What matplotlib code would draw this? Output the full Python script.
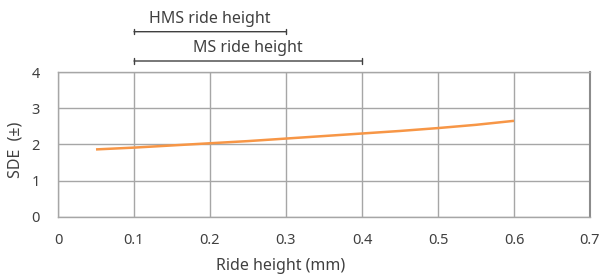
import matplotlib
matplotlib.use("Agg")
import matplotlib.pyplot as plt
import matplotlib.transforms as mtransforms

ride_height = [0.05, 0.1, 0.15, 0.2, 0.25, 0.3, 0.35, 0.4, 0.45, 0.5, 0.55, 0.6]
sde = [1.86, 1.91, 1.97, 2.03, 2.09, 2.16, 2.23, 2.30, 2.37, 2.45, 2.54, 2.65]
xticks = [0, 0.1, 0.2, 0.3, 0.4, 0.5, 0.6, 0.7]
xticklabels = ["0", "0.1", "0.2", "0.3", "0.4", "0.5", "0.6", "0.7"]
yticks = [0, 1, 2, 3, 4]
ranges = [("HMS ride height", 0.1, 0.3), ("MS ride height", 0.1, 0.4)]

plt.rcParams['font.family'] = ['Noto Sans', 'DejaVu Sans']
W, H = 601, 277
fig = plt.figure(figsize=(W/100, H/100), dpi=100)
l, r, t, b = 58, 590, 72, 216.7
ax = fig.add_axes([l/W, 1-b/H, (r-l)/W, (b-t)/H])

txt = '#404040'
ax.plot(ride_height, sde, color='#f79646', lw=1.8, solid_capstyle='butt')
ax.set_xlim(0, 0.7)
ax.set_ylim(0, 4)
ax.set_xticks(xticks)
ax.set_xticklabels(xticklabels)
ax.set_yticks(yticks)
ax.grid(True, color='#a6a6a6', lw=1)
ax.set_axisbelow(True)
for s in ax.spines.values():
    s.set_color('#a6a6a6')
    s.set_linewidth(1)
ax.spines['right'].set_color('#8c8c8c')
ax.spines['right'].set_linewidth(1.5)
ax.tick_params(length=0, labelsize=10.5, colors=txt, pad=12)
ax.tick_params(axis='y', pad=13)
ax.set_xlabel("Ride height (mm)", fontsize=11.5, color=txt)
ax.xaxis.set_label_coords((281-l)/(r-l), -0.285)
ax.xaxis.label.set_va('top')
ax.set_ylabel("SDE  (±)", fontsize=11.5, color=txt)
ax.yaxis.set_label_coords((15-l)/(r-l), (b-150)/(b-t))
ax.yaxis.label.set_va('center')

trans = mtransforms.blended_transform_factory(ax.transData, ax.transAxes)
bar_y = [(b-31.7)/(b-t), (b-61)/(b-t)]
txt_y = [(b-19)/(b-t), (b-48)/(b-t)]
for (name, x0, x1), by, ty in zip(ranges, bar_y, txt_y):
    ax.annotate('', xy=(x0, by), xytext=(x1, by), xycoords=trans, textcoords=trans,
                arrowprops=dict(arrowstyle='|-|', color='#404040', lw=1, mutation_scale=2,
                                shrinkA=0, shrinkB=0), annotation_clip=False)
    ax.text((x0+x1)/2, ty, name, transform=trans, ha='center', va='center',
            fontsize=11.5, color=txt, clip_on=False)

fig.savefig("out.png", dpi=100)
